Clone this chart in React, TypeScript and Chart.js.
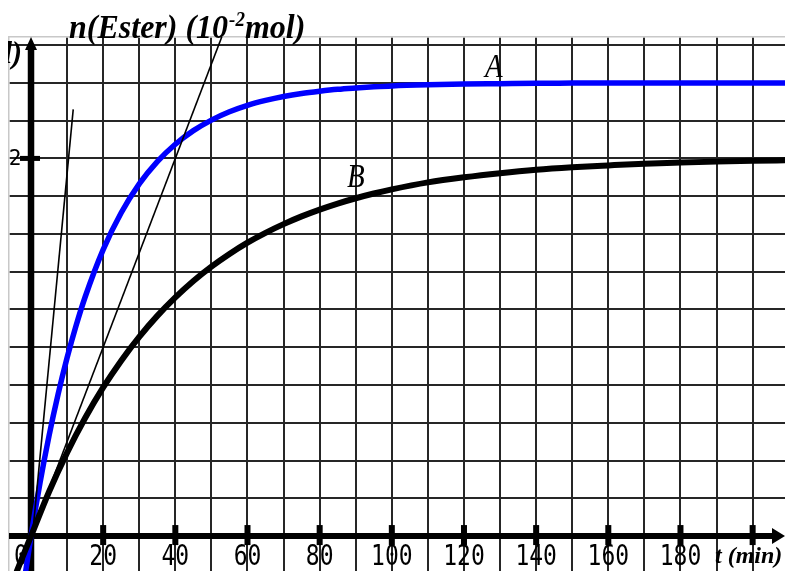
import React, { useEffect, useRef } from 'react';
import { Chart, registerables } from 'chart.js';

Chart.register(...registerables);

// ---- data ----
const timeA = [-1.5, 0, 2.5, 5, 7.5, 10, 12.5, 15, 20, 25, 30, 35, 40, 45, 50, 55, 60, 65, 70, 75, 80, 85, 90, 95, 100, 110, 120, 130, 140, 150, 160, 170, 180, 190, 200, 210];
const valuesA = [-0.19, 0, 0.282, 0.531, 0.75, 0.944, 1.115, 1.266, 1.517, 1.712, 1.865, 1.983, 2.075, 2.147, 2.203, 2.247, 2.281, 2.307, 2.328, 2.344, 2.356, 2.366, 2.373, 2.379, 2.384, 2.39, 2.394, 2.396, 2.398, 2.399, 2.4, 2.4, 2.4, 2.4, 2.4, 2.4];

const timeB = [-4, 0, 5, 10, 15, 20, 25, 30, 35, 40, 45, 50, 55, 60, 65, 70, 75, 80, 85, 90, 95, 100, 110, 120, 130, 140, 150, 160, 170, 180, 190, 200, 210];
const valuesB = [-0.19, 0, 0.235, 0.442, 0.625, 0.787, 0.929, 1.055, 1.166, 1.264, 1.351, 1.427, 1.494, 1.554, 1.606, 1.652, 1.693, 1.729, 1.761, 1.789, 1.814, 1.836, 1.873, 1.9, 1.922, 1.94, 1.953, 1.963, 1.972, 1.978, 1.983, 1.987, 1.99];

const tangent1Time = [0.4, 11.7];
const tangent1Values = [0, 2.26];
const tangent2Time = [0, 54];
const tangent2Values = [0, 2.7];

const xGridValues = [10, 20, 30, 40, 50, 60, 70, 80, 90, 100, 110, 120, 130, 140, 150, 160, 170, 180, 190, 200];
const yGridValues = [0.2, 0.4, 0.6, 0.8, 1.0, 1.2, 1.4, 1.6, 1.8, 2.0, 2.2, 2.4, 2.6];
const xTickMarks = [20, 40, 60, 80, 100, 120, 140, 160, 180, 200];
const xTickLabelValues = [0, 20, 40, 60, 80, 100, 120, 140, 160, 180];
const xTickLabels = ['0', '20', '40', '60', '80', '100', '120', '140', '160', '180'];
const yTickValues = [2];
const yTickLabels = ['2'];

const X_MIN = -6.1;
const X_MAX = 208.97;
const Y_MIN = -0.185;
const Y_MAX = 2.643;

const titleMain = 'n(Ester) (10';
const titleSup = '-2';
const titleEnd = 'mol)';
const cutLabel = 'n(mol)';
const xAxisTitle = 't (min)';
const labelA = 'A';
const labelB = 'B';

const SERIF = "'Liberation Serif', 'DejaVu Serif', serif";
const MONO = "'DejaVu Sans Mono', monospace";

function stretchedText(ctx: CanvasRenderingContext2D, text: string, x: number, y: number, sy: number) {
  ctx.save();
  ctx.translate(x, y);
  ctx.scale(1, sy);
  ctx.fillText(text, 0, 0);
  ctx.restore();
}

const overlay = {
  id: 'overlay',
  beforeDatasetsDraw(chart: any) {
    const { ctx, chartArea, scales } = chart;
    const xs = scales.x;
    const ys = scales.y;
    const x0 = xs.getPixelForValue(0);
    const y0 = ys.getPixelForValue(0);
    ctx.save();
    ctx.fillStyle = '#000';
    ctx.strokeStyle = '#000';

    // tick labels (under the curves)
    ctx.textAlign = 'center';
    ctx.textBaseline = 'alphabetic';
    ctx.font = `23px ${MONO}`;
    xTickLabelValues.forEach((v, i) => {
      let px = xs.getPixelForValue(v);
      if (v === 0) px -= 10;
      stretchedText(ctx, xTickLabels[i], px, y0 + 29, 1.2);
    });
    ctx.font = `21px ${MONO}`;
    yTickValues.forEach((v, i) => {
      const py = ys.getPixelForValue(v);
      ctx.fillText(yTickLabels[i], x0 - 16, py + 7);
    });

    // x axis
    ctx.lineWidth = 6;
    ctx.beginPath();
    ctx.moveTo(chartArea.left, y0);
    ctx.lineTo(chartArea.right - 10, y0);
    ctx.stroke();
    ctx.beginPath();
    ctx.moveTo(chartArea.right, y0);
    ctx.lineTo(chartArea.right - 13, y0 - 8);
    ctx.lineTo(chartArea.right - 13, y0 + 8);
    ctx.closePath();
    ctx.fill();
    xTickMarks.forEach((v) => {
      const px = xs.getPixelForValue(v);
      ctx.fillRect(px - 3, y0 - 11, 6, 20);
    });

    // y axis
    ctx.lineWidth = 6.5;
    ctx.beginPath();
    ctx.moveTo(x0, chartArea.bottom);
    ctx.lineTo(x0, chartArea.top + 10);
    ctx.stroke();
    ctx.beginPath();
    ctx.moveTo(x0, chartArea.top);
    ctx.lineTo(x0 - 6, chartArea.top + 13);
    ctx.lineTo(x0 + 6, chartArea.top + 13);
    ctx.closePath();
    ctx.fill();
    yTickValues.forEach((v) => {
      const py = ys.getPixelForValue(v);
      ctx.fillRect(x0 - 11, py - 2.5, 20, 5);
    });

    // titles
    ctx.textAlign = 'left';
    ctx.font = `bold italic 32px ${SERIF}`;
    let tx = 61;
    stretchedText(ctx, titleMain, tx, 38, 1.08);
    tx += ctx.measureText(titleMain).width;
    ctx.font = `bold italic 19px ${SERIF}`;
    stretchedText(ctx, titleSup, tx + 1, 26, 1.1);
    tx += ctx.measureText(titleSup).width + 1;
    ctx.font = `bold italic 32px ${SERIF}`;
    stretchedText(ctx, titleEnd, tx, 38, 1.08);

    ctx.textAlign = 'right';
    ctx.font = `bold italic 30px ${SERIF}`;
    stretchedText(ctx, cutLabel, 14, 63, 1.05);

    ctx.textAlign = 'left';
    ctx.font = `bold italic 24px ${SERIF}`;
    ctx.fillText(xAxisTitle, 707, 563);

    ctx.restore();
  },
  afterDatasetsDraw(chart: any) {
    const { ctx, scales } = chart;
    ctx.save();
    ctx.fillStyle = '#000';
    ctx.textAlign = 'left';
    ctx.font = `italic 29px ${SERIF}`;
    stretchedText(ctx, labelA, scales.x.getPixelForValue(125.8), scales.y.getPixelForValue(2.431), 1.15);
    stretchedText(ctx, labelB, scales.x.getPixelForValue(87.6), scales.y.getPixelForValue(1.849), 1.15);
    ctx.restore();
  },
};

export default function App() {
  const canvasRef = useRef<HTMLCanvasElement | null>(null);

  useEffect(() => {
    const canvas = canvasRef.current;
    if (!canvas) return;
    const toPoints = (xsArr: number[], ysArr: number[]) => xsArr.map((x, i) => ({ x, y: ysArr[i] }));
    const chart = new Chart(canvas, {
      type: 'line',
      data: {
        datasets: [
          {
            label: 'tangent1',
            data: toPoints(tangent1Time, tangent1Values),
            borderColor: '#000',
            borderWidth: 1.6,
            pointRadius: 0,
            fill: false,
          },
          {
            label: 'tangent2',
            data: toPoints(tangent2Time, tangent2Values),
            borderColor: '#000',
            borderWidth: 1.6,
            pointRadius: 0,
            fill: false,
          },
          {
            label: 'B',
            data: toPoints(timeB, valuesB),
            borderColor: '#000',
            borderWidth: 6,
            pointRadius: 0,
            cubicInterpolationMode: 'monotone',
            fill: false,
          },
          {
            label: 'A',
            data: toPoints(timeA, valuesA),
            borderColor: '#0000ff',
            borderWidth: 5.5,
            pointRadius: 0,
            cubicInterpolationMode: 'monotone',
            fill: false,
          },
        ],
      },
      options: {
        animation: false,
        responsive: true,
        maintainAspectRatio: false,
        events: [],
        layout: { padding: { left: 1, top: 37, right: 0, bottom: 0 } },
        plugins: { legend: { display: false }, tooltip: { enabled: false } },
        scales: {
          x: {
            type: 'linear',
            position: 'top',
            min: X_MIN,
            max: X_MAX,
            afterBuildTicks: (s: any) => {
              s.ticks = xGridValues.map((v) => ({ value: v }));
            },
            ticks: { display: false },
            grid: { color: '#262626', lineWidth: 2, drawTicks: false, tickLength: 0 },
            border: { color: '#c8c8c8', width: 1.5 },
          },
          y: {
            type: 'linear',
            position: 'left',
            min: Y_MIN,
            max: Y_MAX,
            afterBuildTicks: (s: any) => {
              s.ticks = yGridValues.map((v) => ({ value: v }));
            },
            ticks: { display: false },
            grid: { color: '#262626', lineWidth: 2, drawTicks: false, tickLength: 0 },
            border: { color: '#c8c8c8', width: 1.5 },
          },
        },
      } as any,
      plugins: [overlay],
    });
    return () => chart.destroy();
  }, []);

  return (
    <div style={{ position: 'fixed', left: 8, top: 0, width: 777, height: 571, background: '#fff' }}>
      <canvas ref={canvasRef} />
    </div>
  );
}
